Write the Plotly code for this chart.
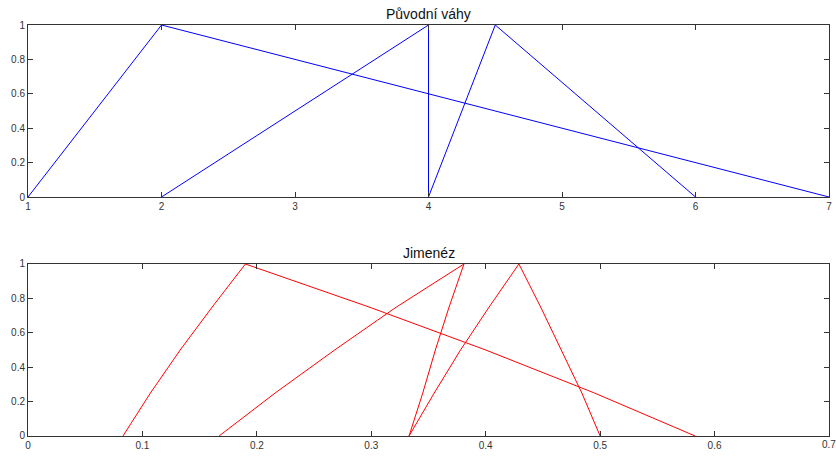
import plotly.graph_objects as go
from plotly.subplots import make_subplots

# Top chart: original triangular weights (left, peak, right)
orig_x = [
    [1, 2, 7],
    [2, 4, 4],
    [4, 4.5, 6],
]
orig_y = [0, 1, 0]

# Bottom chart: Jimenez weights, read at membership levels 0, .25, .5, .75, 1, then back down
jim_levels = [0, 0.25, 0.5, 0.75, 1, 0.75, 0.5, 0.25, 0]
jim_x = [
    [0.083, 0.107, 0.133, 0.161, 0.190, 0.298, 0.400, 0.495, 0.583],
    [0.167, 0.216, 0.268, 0.322, 0.381, 0.368, 0.356, 0.345, 0.333],
    [0.333, 0.355, 0.378, 0.403, 0.429, 0.448, 0.466, 0.484, 0.500],
]

titles = ["Původní váhy", "Jimenéz"]
top_ticks = [1, 2, 3, 4, 5, 6, 7]
bot_ticks = [0, 0.1, 0.2, 0.3, 0.4, 0.5, 0.6, 0.7]
y_ticks = [0, 0.2, 0.4, 0.6, 0.8, 1]

fig = make_subplots(rows=2, cols=1)

for xs in orig_x:
    fig.add_trace(go.Scatter(x=xs, y=orig_y, mode="lines",
                             line=dict(color="#0000ff", width=1),
                             showlegend=False, hoverinfo="skip"), row=1, col=1)
for xs in jim_x:
    fig.add_trace(go.Scatter(x=xs, y=jim_levels, mode="lines",
                             line=dict(color="#ff0000", width=1),
                             showlegend=False, hoverinfo="skip"), row=2, col=1)

tick_font = dict(family="Liberation Sans, Arial", size=10, color="#333333")
axis_common = dict(showline=True, linecolor="#333333", linewidth=1, mirror="ticks",
                   ticks="inside", ticklen=5, tickcolor="#333333", showgrid=False,
                   zeroline=False, tickfont=tick_font)

bot_text = [("%g" % t) for t in bot_ticks]
bot_text[-1] = ""  # last label drawn as annotation so it can run off the edge like the reference

fig.update_xaxes(range=[1, 7], tickvals=top_ticks, ticktext=[str(t) for t in top_ticks],
                 domain=[0, 1], **axis_common, row=1, col=1)
fig.update_xaxes(range=[0, 0.7], tickvals=bot_ticks, ticktext=bot_text,
                 domain=[0, 1], **axis_common, row=2, col=1)
fig.update_yaxes(range=[0, 1], tickvals=y_ticks, ticktext=[("%g" % t) for t in y_ticks],
                 domain=[0.5815, 1], **axis_common, row=1, col=1)
fig.update_yaxes(range=[0, 1], tickvals=y_ticks, ticktext=[("%g" % t) for t in y_ticks],
                 domain=[0, 0.4185], **axis_common, row=2, col=1)

fig.add_annotation(text="%g" % bot_ticks[-1], x=bot_ticks[-1], xref="x2", y=0, yref="y2 domain",
                   xanchor="center", yanchor="middle", yshift=-8, showarrow=False,
                   font=tick_font)

fig.add_annotation(text=titles[0], x=0.5, y=1, xref="paper", yref="paper",
                   xanchor="center", yanchor="bottom", yshift=1, showarrow=False,
                   font=dict(family="Liberation Sans, Arial", size=14, color="#111111"))
fig.add_annotation(text=titles[1], x=0.5, y=0.4185, xref="paper", yref="paper",
                   xanchor="center", yanchor="bottom", yshift=1, showarrow=False,
                   font=dict(family="Liberation Sans, Arial", size=14, color="#111111"))

fig.update_layout(width=836, height=456, margin=dict(l=28, r=4, t=25, b=20),
                  paper_bgcolor="white", plot_bgcolor="white")

fig.write_html("out.html", config={"displayModeBar": False},
               post_script="document.body.style.margin='0';document.body.style.overflow='hidden';")
